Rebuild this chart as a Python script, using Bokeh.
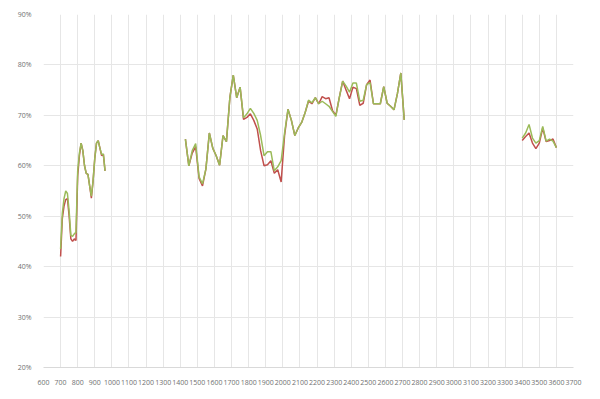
import math
from bokeh.plotting import figure
from bokeh.models import Range1d, FixedTicker, NumeralTickFormatter, ColumnDataSource
from bokeh.embed import file_html
from bokeh.resources import INLINE

NaN = float("nan")

# wavelength-like x values (gaps marked by NaN rows)
x_seg1 = [700, 710, 720, 730, 740, 750, 760, 770, 780, 790, 800, 810, 820, 830, 840,
          850, 860, 870, 880, 890, 900, 910, 920, 930, 940, 950, 960]
red_seg1 = [42.0, 49.5, 52.0, 53.3, 53.5, 50.0, 45.5, 45.0, 45.5, 45.2, 58.0, 62.0, 64.5, 63.0, 60.0,
            58.5, 58.3, 56.0, 53.6, 57.0, 61.5, 64.5, 65.0, 63.5, 62.0, 62.3, 59.0]
green_seg1 = [43.5, 50.5, 53.5, 55.0, 54.5, 51.0, 46.2, 46.0, 46.5, 46.8, 59.0, 62.5, 64.5, 63.0, 60.0,
              58.5, 58.3, 56.0, 54.0, 57.0, 61.5, 64.5, 65.0, 63.5, 62.3, 62.3, 59.0]

x_seg2 = [1430, 1450, 1470, 1490, 1510, 1530, 1550, 1570, 1590, 1610, 1630, 1650, 1670, 1690,
          1710, 1730, 1750, 1770, 1790, 1810, 1830, 1850, 1870, 1890, 1910, 1930, 1950, 1970,
          1990, 2010, 2030, 2050, 2070, 2090, 2110, 2130, 2150, 2170, 2190, 2210, 2230, 2250,
          2270, 2290, 2310, 2330, 2350, 2370, 2390, 2410, 2430, 2450, 2470, 2490, 2510, 2530,
          2550, 2570, 2590, 2610, 2630, 2650, 2670, 2690, 2710]
red_seg2 = [65.3, 60.0, 62.5, 63.8, 57.5, 56.0, 59.4, 66.5, 63.5, 62.0, 60.1, 66.0, 64.8, 73.5,
            78.0, 73.5, 75.6, 69.2, 69.6, 70.3, 69.0, 67.3, 63.0, 60.0, 60.2, 61.0, 58.5, 59.2,
            56.8, 66.0, 71.2, 69.0, 66.0, 67.5, 68.6, 70.5, 72.8, 72.3, 73.5, 72.3, 73.7, 73.3,
            73.5, 71.0, 70.0, 73.5, 76.8, 75.0, 73.3, 75.6, 75.3, 72.0, 72.4, 76.1, 77.0, 72.3,
            72.3, 72.3, 75.7, 72.4, 71.8, 71.1, 74.3, 78.4, 69.1]
green_seg2 = [65.3, 60.0, 63.0, 64.4, 57.8, 56.4, 59.4, 66.5, 63.5, 62.0, 60.1, 66.0, 64.8, 73.5,
              78.0, 73.5, 75.6, 69.5, 70.3, 71.4, 70.4, 69.0, 66.0, 62.0, 62.8, 62.8, 59.0, 59.8,
              61.0, 66.5, 71.2, 69.0, 66.0, 67.5, 68.6, 70.5, 73.0, 72.5, 73.5, 72.3, 72.8, 72.3,
              71.8, 70.8, 69.8, 73.5, 76.8, 75.8, 74.6, 76.4, 76.4, 72.8, 73.0, 76.1, 76.5, 72.3,
              72.3, 72.3, 75.7, 72.4, 71.8, 71.1, 74.3, 78.4, 69.1]

x_seg3 = [3400, 3420, 3440, 3460, 3480, 3500, 3520, 3540, 3560, 3580, 3600]
red_seg3 = [65.0, 65.8, 66.5, 64.5, 63.4, 64.5, 67.5, 64.8, 65.0, 65.3, 63.6]
green_seg3 = [65.5, 66.5, 68.2, 65.5, 64.5, 65.0, 67.8, 64.9, 65.3, 64.9, 63.6]

x_ticks = list(range(600, 3701, 100))
y_ticks = [0.2, 0.3, 0.4, 0.5, 0.6, 0.7, 0.8, 0.9]

xs = x_seg1 + [NaN] + x_seg2 + [NaN] + x_seg3
red = [v / 100 for v in red_seg1] + [NaN] + [v / 100 for v in red_seg2] + [NaN] + [v / 100 for v in red_seg3]
green = [v / 100 for v in green_seg1] + [NaN] + [v / 100 for v in green_seg2] + [NaN] + [v / 100 for v in green_seg3]

src = ColumnDataSource(dict(x=xs, red=red, green=green))

p = figure(width=600, height=399, output_backend="svg", toolbar_location=None,
           x_range=Range1d(600, 3700), y_range=Range1d(0.2, 0.9),
           min_border_left=43, min_border_right=27, min_border_top=14, min_border_bottom=32)
p.outline_line_color = None
p.background_fill_color = "white"

p.line("x", "red", source=src, line_color="#C0504D", line_width=1.5)
p.line("x", "green", source=src, line_color="#9BBB59", line_width=1.5)

p.xaxis.ticker = FixedTicker(ticks=x_ticks)
p.yaxis.ticker = FixedTicker(ticks=y_ticks)
p.yaxis.formatter = NumeralTickFormatter(format="0%")

for ax in (p.xaxis[0], p.yaxis[0]):
    ax.major_tick_line_color = None
    ax.minor_tick_line_color = None
    ax.major_label_text_font = "Open Sans"
    ax.major_label_text_font_size = "7px"
    ax.major_label_text_color = "#707070"
    ax.major_label_standoff = 6
p.xaxis.axis_line_color = "#D9D9D9"
p.yaxis.axis_line_color = None

p.xgrid.grid_line_color = "#E6E6E6"
p.ygrid.grid_line_color = "#E6E6E6"

open("out.html", "w").write(file_html(p, INLINE))
